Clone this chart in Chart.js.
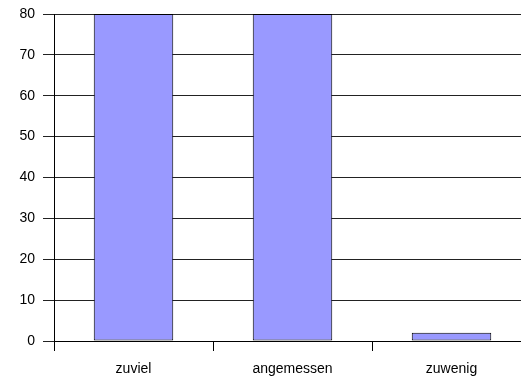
<!DOCTYPE html>
<html>
<head>
<meta charset="utf-8">
<script src="https://cdn.jsdelivr.net/npm/chart.js@4"></script>
<style>
  html, body { margin: 0; padding: 0; overflow: hidden; background: #fff; }
  canvas { display: block; }
</style>
</head>
<body>
<canvas id="c" width="540" height="379"></canvas>
<script>
// Survey answers: share of respondents per rating
const categories = ['zuviel', 'angemessen', 'zuwenig'];
const values = [80, 80, 2];
const yTicks = { min: 0, max: 80, step: 10 };

const font = { family: 'Liberation Sans, Arial, sans-serif', size: 14 };

new Chart(document.getElementById('c'), {
  type: 'bar',
  data: {
    labels: categories,
    datasets: [{
      data: values,
      backgroundColor: '#9999ff',
      borderColor: '#000000',
      borderWidth: 1,
      borderSkipped: false,
      categoryPercentage: 1,
      barPercentage: 0.5
    }]
  },
  options: {
    responsive: false,
    animation: false,
    layout: { padding: { left: 0, top: 14, right: 9, bottom: 0 } },
    plugins: { legend: { display: false }, tooltip: { enabled: false } },
    scales: {
      x: {
        offset: true,
        grid: { offset: true, drawOnChartArea: false, drawTicks: true, tickLength: 10, color: '#000', lineWidth: 1 },
        border: { color: '#000', width: 1 },
        ticks: { color: '#000', font: font, padding: 10, maxRotation: 0 },
        afterFit(scale) { scale.height = 38; }
      },
      y: {
        min: yTicks.min,
        max: yTicks.max,
        grid: { color: '#222', lineWidth: 1, tickLength: 11 },
        border: { color: '#000', width: 1 },
        ticks: { stepSize: yTicks.step, color: '#000', font: font, padding: 8 },
        afterFit(scale) {
          scale.width = 54;
          // keep the plot top fixed by the layout padding alone
          scale.paddingTop = 0;
          scale.paddingBottom = 0;
        }
      }
    }
  }
});
</script>
</body>
</html>
